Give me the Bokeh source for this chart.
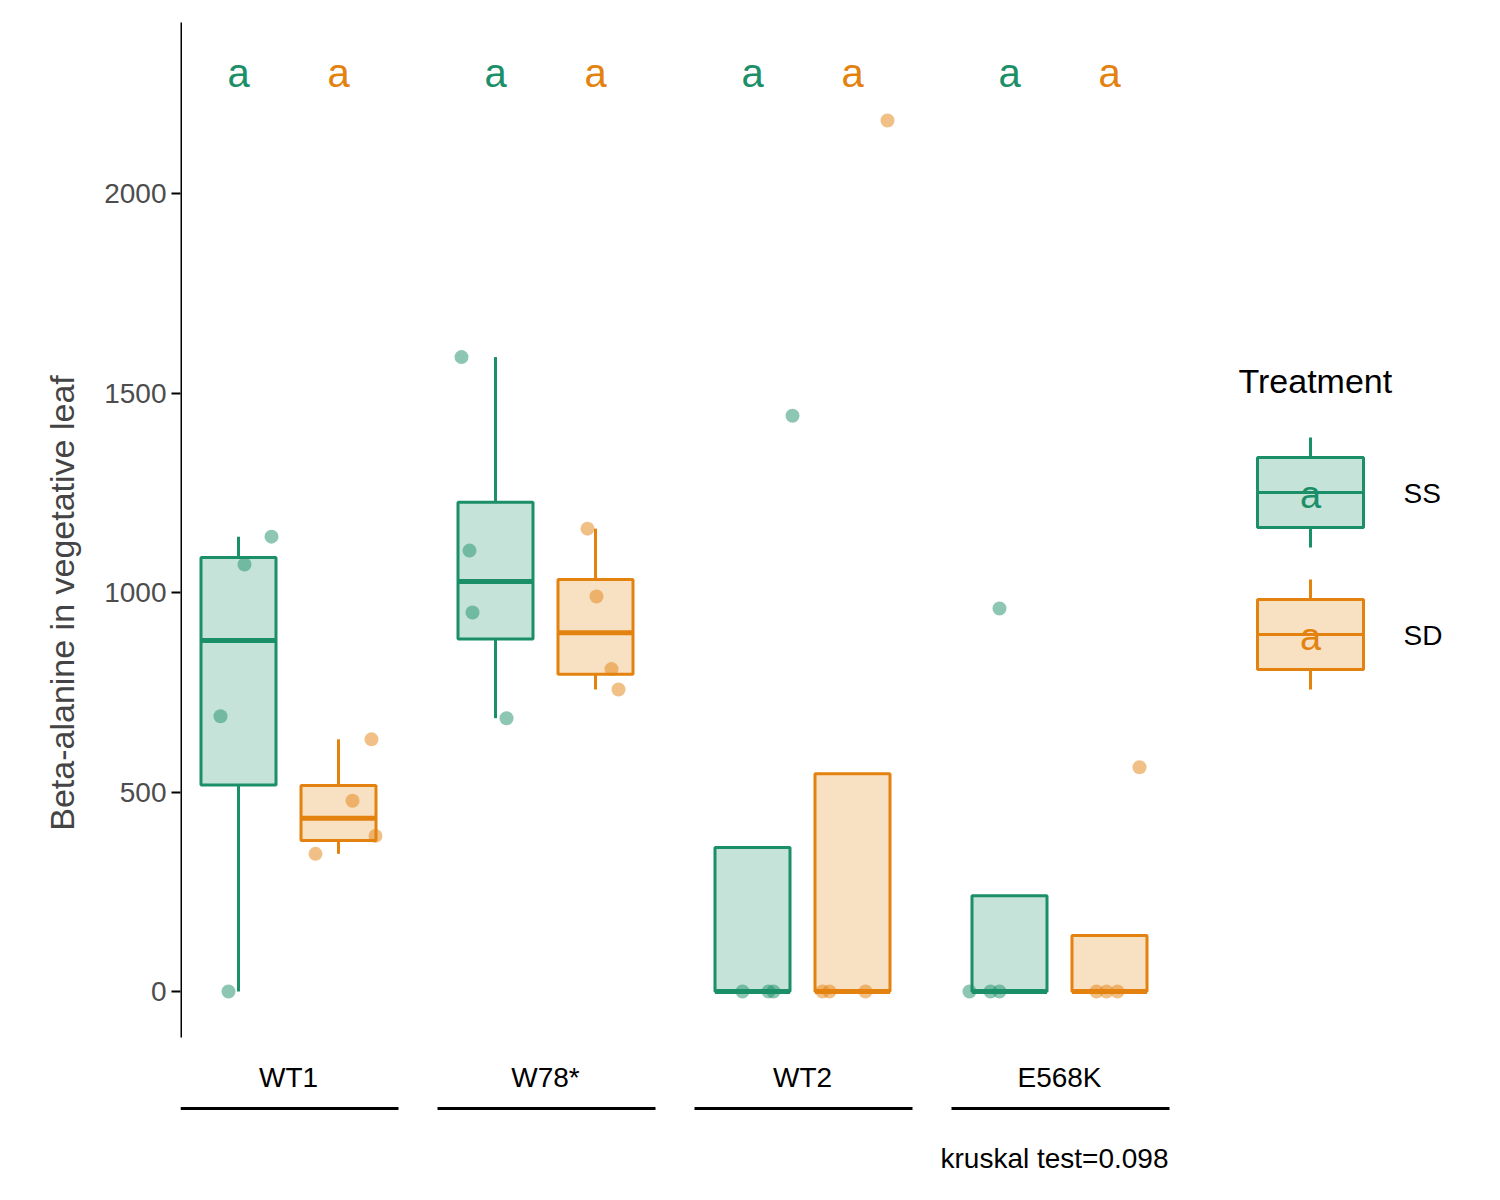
import numpy as np
from bokeh.plotting import figure
from bokeh.models import FixedTicker, Range1d
from bokeh.core.properties import value
from bokeh.embed import file_html
from bokeh.resources import INLINE

genotypes = ["WT1", "W78*", "WT2", "E568K"]
treatments = ["SS", "SD"]
ss_values = [[0, 690, 1070, 1140], [1590, 1105, 950, 685], [0, 0, 0, 1443], [0, 0, 0, 960]]
sd_values = [[345, 478, 632, 390], [1160, 990, 808, 757], [0, 0, 0, 2183], [0, 0, 0, 562]]
# horizontal jitter of points (pixels from box centre)
ss_jitter = [[-10, -18, 6, 33], [-34, -26, -23, 11], [-10, 16, 21, 40], [-40, -19, -10, -10]]
sd_jitter = [[-23, 14, 33, 37], [-8, 1, 16, 23], [-30, -23, 13, 35], [-13, -3, 8, 30]]
letters_ss = ["a", "a", "a", "a"]
letters_sd = ["a", "a", "a", "a"]
y_ticks = [0, 500, 1000, 1500, 2000]
kruskal = "kruskal test=0.098"

GREEN = "#1B8F68"
ORANGE = "#E3820F"
PX = 257.0
FONT = "Liberation Sans"

def fx(px):  # image pixel -> x data
    return (px - 288) / PX
def fy(py):
    return (991 - py) / 0.399

p = figure(width=1498, height=1190, output_backend="svg", toolbar_location=None,
           x_range=Range1d(fx(180), fx(1498)), y_range=Range1d(fy(1190), fy(15)),
           min_border_left=180, min_border_right=0, min_border_top=15, min_border_bottom=0)
p.xaxis.visible = False
p.grid.visible = False
p.outline_line_color = None
p.background_fill_color = "white"
ya = p.yaxis[0]
ya.ticker = FixedTicker(ticks=y_ticks)
ya.axis_line_color = None
ya.major_tick_line_color = "black"
ya.major_tick_line_width = 2
ya.major_tick_out = 9
ya.major_tick_in = 0
ya.minor_tick_line_color = None
ya.major_label_text_font = FONT
ya.major_label_text_font_size = "28px"
ya.major_label_text_color = "#4d4d4d"
ya.axis_label = "Beta-alanine in vegetative leaf"
ya.axis_label_text_font = FONT
ya.axis_label_text_font_size = "34px"
ya.axis_label_text_font_style = "normal"
ya.axis_label_standoff = 20

# axis line
p.segment(x0=[fx(180)], y0=[fy(1037)], x1=[fx(180)], y1=[fy(22)], line_color="black", line_width=3)

half = 37.5 / PX
off = 50 / PX
for i in range(4):
    for vals, jit, col, sign, lt in [(ss_values[i], ss_jitter[i], GREEN, -1, letters_ss[i]),
                                      (sd_values[i], sd_jitter[i], ORANGE, 1, letters_sd[i])]:
        c = i + sign * off
        v = np.array(vals, float)
        q1, med, q3 = np.percentile(v, [25, 50, 75])
        iqr = q3 - q1
        lo = v[v >= q1 - 1.5 * iqr].min()
        hi = v[v <= q3 + 1.5 * iqr].max()
        if lo < q1:
            p.segment(x0=[c], y0=[lo], x1=[c], y1=[q1], line_color=col, line_width=3)
        if hi > q3:
            p.segment(x0=[c], y0=[q3], x1=[c], y1=[hi], line_color=col, line_width=3)
        p.quad(left=[c - half], right=[c + half], bottom=[q1], top=[q3],
               fill_color=col, fill_alpha=0.25, line_color=col, line_width=3)
        p.segment(x0=[c - half], y0=[med], x1=[c + half], y1=[med], line_color=col, line_width=5)
        xs = [c + j / PX for j in jit]
        p.scatter(xs, list(vals), size=14, fill_color=col, fill_alpha=0.5, line_color=None)
        p.text([c], [fy(72)], text=[lt], text_color=col, text_font=value(FONT),
               text_font_size="40px", text_align="center", text_baseline="middle")
    p.text([i], [fy(1077)], text=[genotypes[i]], text_font=value(FONT), text_font_size="28px",
           text_align="center", text_baseline="middle", text_color="black")
    p.segment(x0=[i - 108 / PX], y0=[fy(1108)], x1=[i + 110 / PX], y1=[fy(1108)],
              line_color="black", line_width=3)

p.text([fx(1168)], [fy(1158)], text=[kruskal], text_font=value(FONT), text_font_size="28px",
       text_align="right", text_baseline="middle", text_color="black")

# legend
p.text([fx(1238)], [fy(380)], text=["Treatment"], text_font=value(FONT), text_font_size="34px",
       text_align="left", text_baseline="middle", text_color="black")
for k, (lab, col, top) in enumerate([(treatments[0], GREEN, 457), (treatments[1], ORANGE, 599)]):
    cx = fx(1310)
    p.segment(x0=[cx, cx], y0=[fy(top - 20), fy(top + 70)], x1=[cx, cx], y1=[fy(top), fy(top + 90)],
              line_color=col, line_width=3)
    p.quad(left=[fx(1257)], right=[fx(1363)], top=[fy(top)], bottom=[fy(top + 70)],
           fill_color=col, fill_alpha=0.25, line_color=col, line_width=3)
    p.segment(x0=[fx(1257)], y0=[fy(top + 35)], x1=[fx(1363)], y1=[fy(top + 35)], line_color=col, line_width=3)
    p.text([cx], [fy(top + 37)], text=["a"], text_color=col, text_font=value(FONT),
           text_font_size="38px", text_align="center", text_baseline="middle")
    p.text([fx(1403)], [fy(top + 36)], text=[lab], text_font=value(FONT), text_font_size="28px",
           text_align="left", text_baseline="middle", text_color="black")

open("out.html", "w").write(file_html(p, INLINE))
